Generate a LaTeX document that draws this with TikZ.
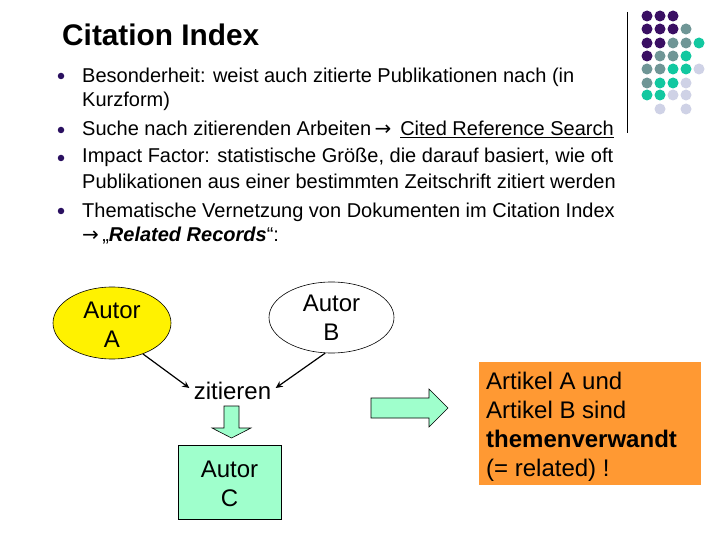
\documentclass[tikz,border=0pt]{standalone}
\usepackage{fontspec}
\setmainfont{Liberation Sans}
\newfontfamily\symfont{DejaVu Sans}
\usetikzlibrary{shapes.geometric,arrows.meta}
\definecolor{dotdark}{HTML}{3A0F63}
\definecolor{dotgray}{HTML}{6F9696}
\definecolor{dotteal}{HTML}{12C8A0}
\definecolor{dotlav}{HTML}{CFD2E6}
\definecolor{mint}{HTML}{9FFFCC}
\definecolor{orangebox}{HTML}{FF9933}
\definecolor{bulletc}{HTML}{2A1060}
\newcommand{\txtarrow}{{\symfont\char"2192}}
\newcommand{\lowered}[2]{\raisebox{-#1}[\height][\depth]{#2}}
\tikzset{
  x=1pt,y=-1pt,
  line/.style={anchor=base west,inner sep=0pt,font=\fontsize{20}{24}\selectfont},
  bul/.style={circle,fill=bulletc,inner sep=0pt,minimum size=6.5pt},
  dd/.style={circle,fill=dotdark,inner sep=0pt,minimum size=11pt},
  dg/.style={circle,fill=dotgray,inner sep=0pt,minimum size=11pt},
  dt/.style={circle,fill=dotteal,inner sep=0pt,minimum size=11pt},
  dl/.style={circle,fill=dotlav,inner sep=0pt,minimum size=11pt},
  big/.style={align=center,font=\fontsize{24}{29}\selectfont},
  boxline/.style={anchor=base west,inner sep=0pt,font=\fontsize{24}{29}\selectfont},
  cite/.style={-{Stealth[length=7pt,width=6.5pt]},line width=1.2pt,black},
  block/.style={draw=black,line width=0.6pt,fill=mint},
}
\begin{document}
\begin{tikzpicture}
\useasboundingbox (0,0) rectangle (720,540);
\fill[white] (0,0) rectangle (720,540);
\node[anchor=base west,inner sep=0pt,font=\fontsize{29.8}{34}\selectfont\bfseries] (title) at (62,46) {Citation Index};
\foreach \nm/\yy in {b1/76,b2/130,b3/158,b4/211}{\node[bul] (\nm) at (61,\yy) {};}
\node[line] (l1) at (82,83) {Besonderheit: weist auch zitierte Publikationen nach (in};
\node[line] (l2) at (82,107) {Kurzform)};
\node[line] (l3) at (82,136) {Suche nach zitierenden Arbeiten\,\txtarrow{} \,\underline{Cited Reference Search}};
\node[line] (l4) at (82,163) {Impact Factor: statistische Größe, die darauf basiert, wie oft};
\node[line] (l5) at (82,189) {Publikationen aus einer bestimmten Zeitschrift zitiert werden};
\node[line] (l6) at (82,218) {Thematische Vernetzung von Dokumenten im Citation Index};
\node[line] (l7) at (82,241) {\txtarrow{}\,„\textbf{\textit{Related Records}}“:};
% dots
\foreach \nm/\cx/\cy/\st in {
 a1/647/16/dd,a2/660/16/dd,a3/673/16/dd,
 c1/647/29/dd,c2/660/29/dd,c3/673/29/dd,c4/686/29/dg,
 e1/647/43/dd,e2/660/43/dd,e3/673/43/dg,e4/686/43/dg,e5/699/43/dt,
 f1/647/56/dd,f2/660/56/dg,f3/673/56/dg,f4/686/56/dt,
 g1/647/69/dg,g2/660/69/dg,g3/673/69/dt,g4/686/69/dt,g5/699/69/dl,
 h1/647/83/dg,h2/660/83/dt,h3/673/83/dt,h4/686/83/dl,
 i1/647/95/dt,i2/660/95/dt,i3/673/95/dl,i4/686/95/dl,
 j2/660/109/dl,j4/686/109/dl}{
 \node[\st] (\nm) at (\cx,\cy) {};
}
\coordinate (ruletop) at (627,12);
\coordinate (rulebot) at (627,133);
\draw[line width=1pt] (ruletop) -- (rulebot);
% diagram
\node[ellipse,draw=black,line width=0.6pt,fill=yellow,minimum width=118pt,minimum height=72pt,inner sep=0pt,big] (A) at (112,323) {\lowered{1.5pt}{Autor}\\\lowered{1.5pt}{A}};
\node[ellipse,draw=black,line width=0.6pt,fill=white,minimum width=125pt,minimum height=71pt,inner sep=0pt,big] (B) at (331.5,317.5) {Autor\\B};
\node[big,inner sep=0pt,minimum width=86pt,minimum height=30pt] (Z) at (232.5,391) {zitieren};
\node[block,big,minimum width=103pt,minimum height=74pt,inner sep=0pt] (C) at (229.5,482) {\lowered{2pt}{Autor}\\\lowered{2pt}{C}};
\draw[cite] (A.-45) -- ([yshift=3pt]Z.west);
\draw[cite] (B.-100) -- ([yshift=3pt]Z.east);
\draw[block] (224,406) -- (239,406) -- (239,428) -- (251,428) -- (231.5,438) -- (212,428) -- (224,428) -- cycle;
\draw[block] (371,398) -- (429,398) -- (429,389) -- (448,408) -- (429,427) -- (429,418) -- (371,418) -- cycle;
\node[fill=orangebox,minimum width=222pt,minimum height=123pt,inner sep=0pt] (D) at (590,423.5) {};
\node[boxline] (d1) at (486,389) {Artikel A und};
\node[boxline] (d2) at (486,418) {Artikel B sind};
\node[boxline,font=\fontsize{24}{29}\selectfont\bfseries] (d3) at (486,447) {themenverwandt};
\node[boxline] (d4) at (486,476) {(= related) !};
\end{tikzpicture}
\end{document}
